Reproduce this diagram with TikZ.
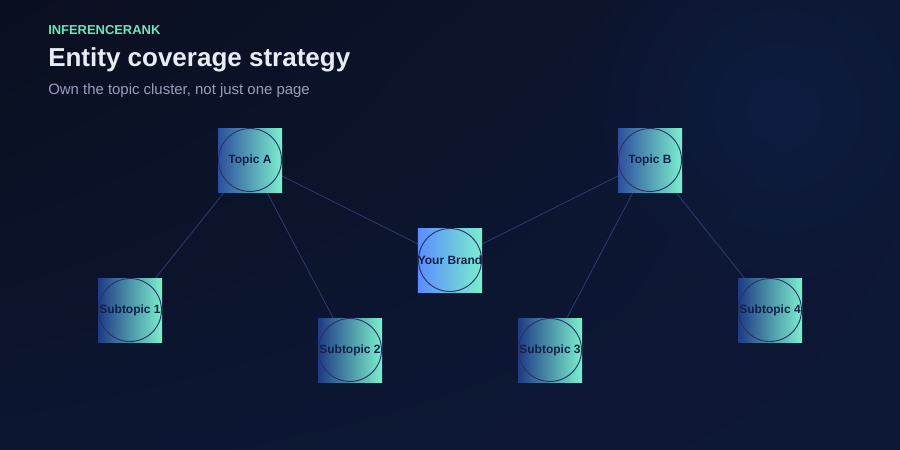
\documentclass[tikz,border=0pt]{standalone}
\usepackage{fontspec}
\setmainfont{Liberation Sans}
\usetikzlibrary{fadings,shadings}
\tikzfading[name=glowfade, inner color=transparent!0, outer color=transparent!100]
\definecolor{bgA}{HTML}{0A0F1F}
\definecolor{bgB}{HTML}{0D1733}
\definecolor{bgC}{HTML}{0C1631}
\definecolor{bgD}{HTML}{0D1836}
\definecolor{glow}{HTML}{0F1C40}
\definecolor{mint}{HTML}{6EE7B7}
\definecolor{titlecol}{HTML}{E8ECF5}
\definecolor{subcol}{HTML}{94A0BE}
\definecolor{edgecol}{HTML}{2C3C6C}
\definecolor{ringcol}{HTML}{283366}
\definecolor{nodetext}{HTML}{13204A}
\definecolor{gTopicL}{HTML}{2D4E9E}
\definecolor{gSubL}{HTML}{1F3A86}
\definecolor{gBrandL}{HTML}{5B8CFF}
\definecolor{gR}{HTML}{7BEFCC}
\tikzset{
  px/.style={x=0.75pt,y=-0.75pt},
  basebox/.style={rectangle, minimum size=48pt, inner sep=0pt, draw=none,
    font=\bfseries\fontsize{9}{10}\selectfont, text=nodetext},
  topicbox/.style={basebox, left color=gTopicL, right color=gR},
  subbox/.style={basebox, left color=gSubL, right color=gR},
  brandbox/.style={basebox, left color=gBrandL, right color=gR},
  ring/.style={draw=ringcol, line width=0.7pt},
  link/.style={draw=edgecol, line width=0.6pt},
}
\begin{document}
\begin{tikzpicture}[px]
\useasboundingbox (0,0) rectangle (900,450);
\shade[upper left=bgA, upper right=bgB, lower left=bgC, lower right=bgD] (0,0) rectangle (900,450);
\fill[glow, path fading=glowfade] (780,110) circle (200);
% title
\node[anchor=base west, inner sep=0pt, text=mint, font=\bfseries\fontsize{9.7}{12}\selectfont] (brandlbl) at (48,34) {INFERENCERANK};
\node[anchor=base west, inner sep=0pt, text=titlecol, font=\bfseries\fontsize{19.5}{22}\selectfont] (title) at (48,66) {Entity coverage strategy};
\node[anchor=base west, inner sep=0pt, text=subcol, font=\fontsize{11.2}{13}\selectfont] (subtitle) at (48,94) {Own the topic cluster, not just one page};
% nodes
\coordinate (cA) at (250,160);
\coordinate (cB) at (650,160);
\coordinate (cY) at (450,260);
\coordinate (c1) at (130,310);
\coordinate (c2) at (350,350);
\coordinate (c3) at (550,350);
\coordinate (c4) at (770,310);
\draw[link] (cY) -- (cA);
\draw[link] (cY) -- (cB);
\draw[link] (cA) -- (c1);
\draw[link] (cA) -- (c2);
\draw[link] (cB) -- (c3);
\draw[link] (cB) -- (c4);
\node[topicbox] (tA) at (cA) {Topic A};
\node[topicbox] (tB) at (cB) {Topic B};
\node[brandbox] (yb) at (cY) {Your Brand};
\node[subbox] (s1) at (c1) {Subtopic 1};
\node[subbox] (s2) at (c2) {Subtopic 2};
\node[subbox] (s3) at (c3) {Subtopic 3};
\node[subbox] (s4) at (c4) {Subtopic 4};
\foreach \n in {tA,tB,yb,s1,s2,s3,s4}{
  \draw[ring] (\n.center) circle (31.5);
}
\end{tikzpicture}
\end{document}
